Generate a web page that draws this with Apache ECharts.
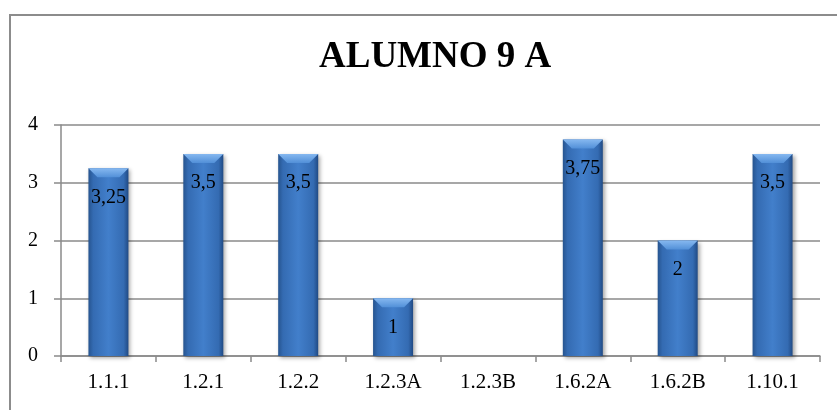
<!DOCTYPE html>
<html>
<head>
<meta charset="utf-8">
<script src="https://cdn.jsdelivr.net/npm/echarts@6/dist/echarts.min.js"></script>
<style>
  html, body { margin: 0; padding: 0; background: #fff; }
  #chart { width: 837px; height: 410px; }
</style>
</head>
<body>
<div id="chart"></div>
<script>
// Scores per criterion for student 9 A
const categories = ['1.1.1', '1.2.1', '1.2.2', '1.2.3A', '1.2.3B', '1.6.2A', '1.6.2B', '1.10.1'];
const scores = [3.25, 3.5, 3.5, 1, 0, 3.75, 2, 3.5];
const yTicks = [0, 1, 2, 3, 4];

const serif = '"Liberation Serif", "Times New Roman", serif';
const gridGrey = '#8a8a8a';

const chart = echarts.init(document.getElementById('chart'));

// Bevelled top face for each column, placed with the axis scale
function renderBevel(params, api) {
  const v = api.value(1);
  if (!v) return null;
  const top = api.coord([api.value(0), v]);
  const base = api.coord([api.value(0), 0]);
  const w = 40;
  const x0 = top[0] - w / 2, x1 = top[0] + w / 2;
  const d = Math.min(9, (base[1] - top[1]) / 2);
  return {
    type: 'polygon',
    shape: { points: [[x0, top[1]], [x1, top[1]], [x1 - d, top[1] + d], [x0 + d, top[1] + d]] },
    style: {
      fill: new echarts.graphic.LinearGradient(0, 0, 0, 1, [
        { offset: 0, color: '#86b8f0' },
        { offset: 1, color: '#5290d8' }
      ])
    },
    silent: true
  };
}

chart.setOption({
  animation: false,
  backgroundColor: '#ffffff',
  graphic: [{
    type: 'rect',
    shape: { x: 10, y: 15, width: 900, height: 500 },
    style: { fill: 'none', stroke: '#8c8c8c', lineWidth: 2 },
    silent: true,
    z: -1
  }],
  title: {
    text: 'ALUMNO 9 A',
    left: 314,
    top: 34,
    textStyle: { fontFamily: serif, fontWeight: 'bold', fontSize: 37, color: '#000' }
  },
  grid: { left: 61, right: 17, top: 125, bottom: 54, containLabel: false },
  xAxis: {
    type: 'category',
    data: categories,
    boundaryGap: true,
    axisLine: { lineStyle: { color: gridGrey, width: 1.5 } },
    axisTick: { show: true, length: 6, lineStyle: { color: gridGrey, width: 1.5 } },
    axisLabel: { fontFamily: serif, fontSize: 21, color: '#000', margin: 16 }
  },
  yAxis: {
    type: 'value',
    min: yTicks[0],
    max: yTicks[yTicks.length - 1],
    interval: 1,
    axisLine: { show: true, lineStyle: { color: gridGrey, width: 1.5 } },
    axisTick: { show: true, length: 7, lineStyle: { color: gridGrey, width: 1.5 } },
    splitLine: { lineStyle: { color: gridGrey, width: 1.5 } },
    axisLabel: { fontFamily: serif, fontSize: 20, color: '#000', margin: 23 }
  },
  series: [{
    type: 'bar',
    data: scores,
    barWidth: 40,
    itemStyle: {
      color: new echarts.graphic.LinearGradient(0, 0, 1, 0, [
        { offset: 0, color: '#26548f' },
        { offset: 0.12, color: '#346bb2' },
        { offset: 0.5, color: '#427fcb' },
        { offset: 0.88, color: '#346bb2' },
        { offset: 1, color: '#204a84' }
      ]),
      shadowColor: 'rgba(0,0,0,0.35)',
      shadowBlur: 4,
      shadowOffsetX: 2,
      shadowOffsetY: 2
    },
    label: {
      show: true,
      position: 'insideTop',
      distance: 19,
      fontFamily: serif,
      fontSize: 20,
      color: '#000',
      formatter: p => (p.value ? String(p.value).replace('.', ',') : '')
    },
    z: 2
  }, {
    type: 'custom',
    data: scores.map((v, i) => [i, v]),
    renderItem: renderBevel,
    z: 3,
    silent: true
  }]
});
</script>
</body>
</html>
